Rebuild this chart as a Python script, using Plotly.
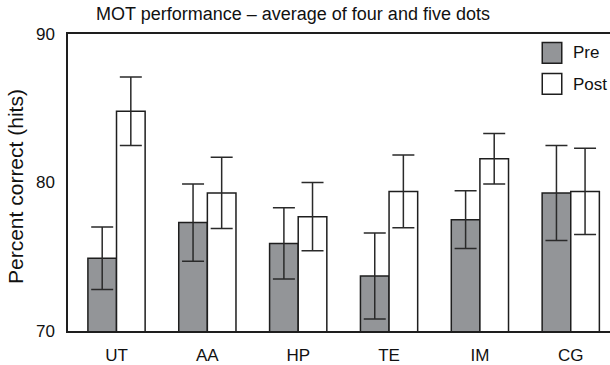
import plotly.graph_objects as go

categories = ["UT", "AA", "HP", "TE", "IM", "CG"]
pre_values = [74.9, 77.3, 75.9, 73.7, 77.5, 79.3]
pre_errors = [2.1, 2.6, 2.4, 2.9, 1.95, 3.2]
post_values = [84.8, 79.3, 77.7, 79.4, 81.6, 79.4]
post_errors = [2.3, 2.4, 2.3, 2.45, 1.7, 2.9]
y_ticks = [70, 80, 90]

FONT = "Liberation Sans, Arial, Helvetica, sans-serif"
LINE = "#1e1e1e"
ERR = "#2a2a2a"
PRE_FILL = "#939598"

xpos = list(range(len(categories)))
bw = 0.315

fig = go.Figure()
fig.add_trace(go.Bar(
    x=xpos, y=pre_values, name="Pre", width=bw, offset=-bw,
    marker=dict(color=PRE_FILL, line=dict(color=LINE, width=1.5)),
    error_y=dict(type="data", array=pre_errors, visible=True, color=ERR, thickness=1.5, width=11),
))
fig.add_trace(go.Bar(
    x=xpos, y=post_values, name="Post", width=bw, offset=0,
    marker=dict(color="white", line=dict(color=LINE, width=1.5)),
    error_y=dict(type="data", array=post_errors, visible=True, color=ERR, thickness=1.5, width=11),
))

# legend drawn as boxes + labels
legend_items = [("Pre", PRE_FILL, 0.971, 0.9017, 0.937), ("Post", "white", 0.8666, 0.797, 0.831)]
for label, fill, y1, y0, yt in legend_items:
    fig.add_shape(type="rect", xref="paper", yref="paper", x0=0.875, x1=0.911, y0=y0, y1=y1,
                  fillcolor=fill, line=dict(color=LINE, width=1.5))
    fig.add_annotation(xref="paper", yref="paper", x=0.9275, y=yt, text=label, showarrow=False,
                       xanchor="left", yanchor="middle", font=dict(size=17, color="#111", family=FONT))

fig.add_annotation(xref="paper", yref="paper", x=-0.0966, y=0.487, text="Percent correct (hits)",
                   textangle=-90, showarrow=False, xanchor="center", yanchor="middle",
                   font=dict(size=21, color="#111", family=FONT))

fig.update_layout(
    width=610, height=365,
    margin=dict(l=68, r=0, t=34, b=29),
    paper_bgcolor="white", plot_bgcolor="white",
    showlegend=False,
    barmode="overlay",
    font=dict(family=FONT, color="#111"),
    title=dict(text="MOT performance – average of four and five dots", xref="container", yref="container",
               x=293 / 610, y=1 - 13.5 / 365, xanchor="center", yanchor="middle",
               font=dict(size=18, family=FONT, color="#111")),
)
fig.update_xaxes(range=[-0.534, 5.432], tickmode="array", tickvals=xpos, ticktext=categories,
                 showgrid=False, zeroline=False, showline=True, linecolor=LINE, linewidth=1.5,
                 mirror=True, ticks="", ticklabelstandoff=8, tickfont=dict(size=17, family=FONT, color="#111"))
fig.update_yaxes(range=[70, 90], tickmode="array", tickvals=y_ticks, showgrid=False, zeroline=False,
                 showline=True, linecolor=LINE, linewidth=1.5, mirror=False, ticks="",
                 ticklabelstandoff=8, tickfont=dict(size=17, family=FONT, color="#111"))

fig.write_html("out.html")
